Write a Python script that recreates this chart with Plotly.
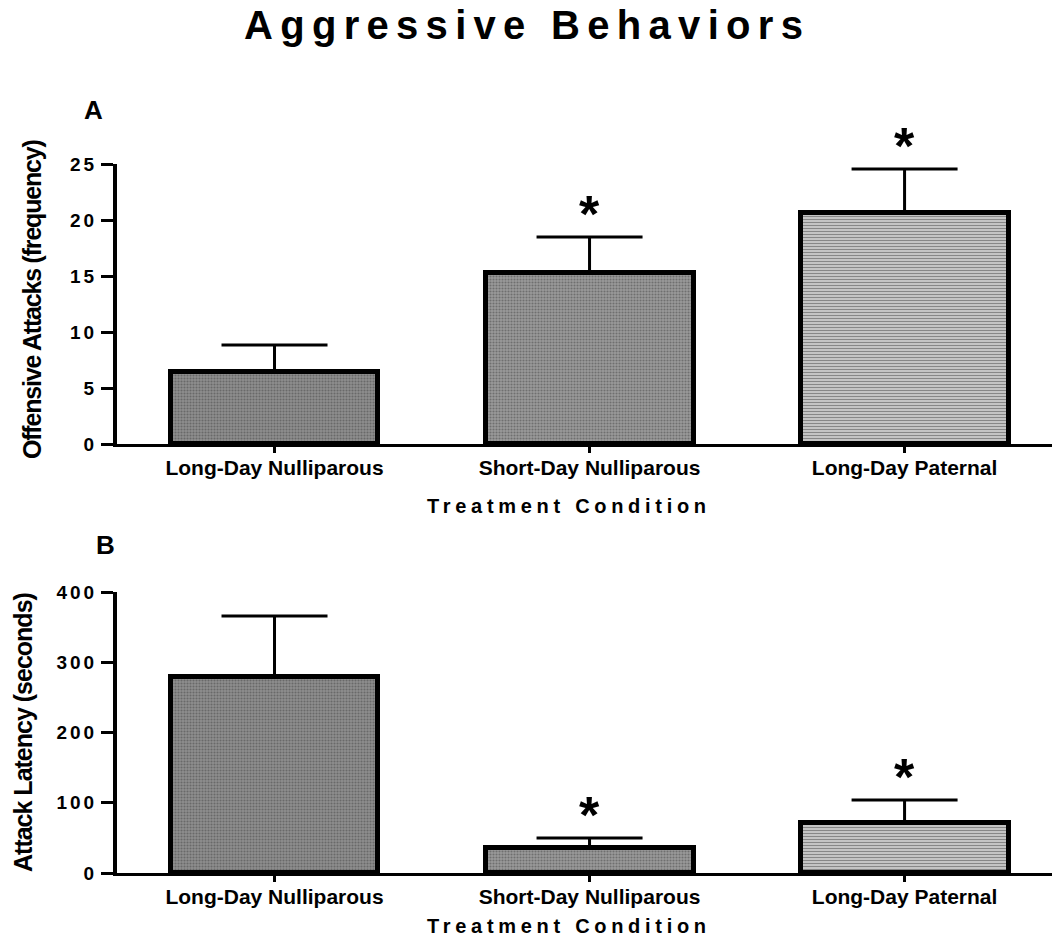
import plotly.graph_objects as go

categories = ["Long-Day Nulliparous", "Short-Day Nulliparous", "Long-Day Paternal"]
attacks_mean = [6.43, 15.27, 20.62]
attacks_sem = [2.41, 3.21, 3.93]
attacks_sig = [False, True, True]
latency_mean = [279, 35.6, 71]
latency_sem = [87, 14.4, 33]
latency_sig = [False, True, True]
a_ticks = [0, 5, 10, 15, 20, 25]
b_ticks = [0, 100, 200, 300, 400]

W, H = 1052, 941
L = 117
SANS = "Liberation Sans, Arial, sans-serif"

bar_colors = ["#8e8e8e", "#9a9a9a", "#cacaca"]
pat_shapes = [".", ".", "-"]
pat_fg = ["#626262", "#6e6e6e", "#9e9e9e"]


def px_x(p):
    return (p - L) / (W - L)


def px_y(p):
    return 1 - p / H


def spaced(t, ls):
    return f'<span style="letter-spacing:{ls}px">{t}</span>'


fig = go.Figure()
x_idx = [0, 1, 2]
for ax, means, sems in [("", attacks_mean, attacks_sem), ("2", latency_mean, latency_sem)]:
    fig.add_trace(go.Bar(
        x=x_idx, y=means, width=0.66,
        marker=dict(color=bar_colors,
                    pattern=dict(shape=pat_shapes, fgcolor=pat_fg,
                                 size=3, solidity=0.4, fillmode="overlay"),
                    line=dict(color="black", width=5)),
        error_y=dict(type="data", array=sems, arrayminus=[0, 0, 0], symmetric=False,
                     color="black", thickness=3, width=53),
        xaxis="x" + ax, yaxis="y" + ax, showlegend=False, hoverinfo="skip",
    ))

xcommon = dict(range=[-0.5, 2.468], tickmode="array", tickvals=x_idx, ticktext=categories,
               showline=True, linecolor="black", linewidth=3, ticks="outside", ticklen=6,
               tickwidth=3, tickcolor="black", showgrid=False, zeroline=False, automargin=False,
               ticklabelstandoff=-3,
               tickfont=dict(family=SANS, size=21, color="black", weight="bold"))
ycommon = dict(showline=True, linecolor="black", linewidth=4, ticks="outside", ticklen=12,
               tickwidth=3, tickcolor="black", showgrid=False, zeroline=False, automargin=False,
               tickfont=dict(family=SANS, size=19, color="black", weight="bold"))

fig.update_layout(
    width=W, height=H, plot_bgcolor="white", paper_bgcolor="white",
    margin=dict(l=L, r=0, t=0, b=0, autoexpand=False),
    bargap=0,
    xaxis=dict(domain=[0, 1], anchor="y", **xcommon),
    xaxis2=dict(domain=[0, 1], anchor="y2", **xcommon),
    yaxis=dict(domain=[px_y(444), px_y(164)], anchor="x", range=[0, 25], tickvals=a_ticks,
               ticktext=[spaced(str(v), 3) for v in a_ticks], **ycommon),
    yaxis2=dict(domain=[px_y(873), px_y(592)], anchor="x2", range=[0, 400], tickvals=b_ticks,
                ticktext=[spaced(str(v), 3) for v in b_ticks], **ycommon),
)

ann = []
ann.append(dict(text=spaced("Aggressive Behaviors", 7.3), x=px_x(527), y=px_y(25), xref="paper", yref="paper",
                showarrow=False, xanchor="center", yanchor="middle",
                font=dict(family=SANS, size=40, color="black", weight="bold")))
ann.append(dict(text="A", x=px_x(93), y=px_y(110), xref="paper", yref="paper", showarrow=False,
                xanchor="center", yanchor="middle", font=dict(family=SANS, size=26, color="black", weight="bold")))
ann.append(dict(text="B", x=px_x(105), y=px_y(545), xref="paper", yref="paper", showarrow=False,
                xanchor="center", yanchor="middle", font=dict(family=SANS, size=26, color="black", weight="bold")))
ann.append(dict(text=spaced("Offensive Attacks (frequency)", -1.2), x=px_x(32), y=px_y(300),
                xref="paper", yref="paper", showarrow=False, textangle=-90,
                xanchor="center", yanchor="middle",
                font=dict(family=SANS, size=25, color="black", weight="bold")))
ann.append(dict(text=spaced("Attack Latency (seconds)", -1.0), x=px_x(23), y=px_y(732),
                xref="paper", yref="paper", showarrow=False, textangle=-90,
                xanchor="center", yanchor="middle",
                font=dict(family=SANS, size=25, color="black", weight="bold")))
for yy in [506, 926]:
    ann.append(dict(text=spaced("Treatment Condition", 4.7), x=px_x(569), y=px_y(yy), xref="paper", yref="paper",
                    showarrow=False, xanchor="center", yanchor="middle",
                    font=dict(family=SANS, size=20, color="black", weight="bold")))
for ax, means, sems, sig in [("", attacks_mean, attacks_sem, attacks_sig), ("2", latency_mean, latency_sem, latency_sig)]:
    for i in range(3):
        if sig[i]:
            ann.append(dict(text="*", x=i, y=means[i] + sems[i], xref="x" + ax, yref="y" + ax,
                            showarrow=False, xanchor="center", yanchor="bottom", yshift=-8,
                            font=dict(family=SANS, size=52, color="black", weight="bold")))
fig.update_layout(annotations=ann)

fig.write_html("out.html", config={"displayModeBar": False},
               post_script="document.body.style.margin='0';document.body.style.overflow='hidden';")
